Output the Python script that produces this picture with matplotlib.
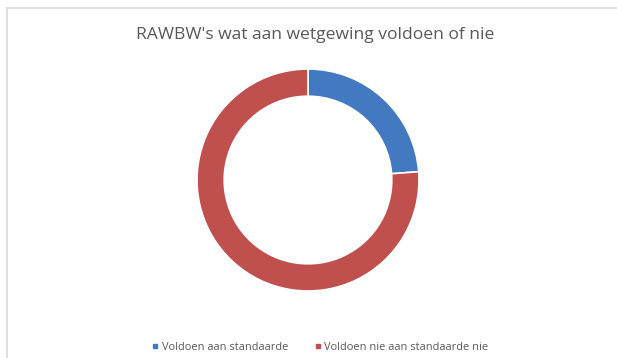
import matplotlib
matplotlib.use("Agg")
import matplotlib.pyplot as plt
from matplotlib.lines import Line2D

# ---------- data ----------
labels = ["Voldoen aan standaarde", "Voldoen nie aan standaarde nie"]
counts = [5, 16]
colors = ["#4279C0", "#C0504D"]
TXT = "#595959"

plt.rcParams["font.family"] = ["Open Sans", "DejaVu Sans"]

fig = plt.figure(figsize=(6.17, 3.58), dpi=100)

# light chart-area border (top + left only, as in the screenshot)
fig.add_artist(Line2D([7/617, 1.0], [1 - 8/358, 1 - 8/358], color="#D9D9D9", lw=1.2))
fig.add_artist(Line2D([7/617, 7/617], [0, 1 - 8/358], color="#D9D9D9", lw=1.2))

# donut: centre (308, 180), radius ~111 px
r = 111
cx, cy = 308, 180
ax = fig.add_axes([(cx - r) / 617, 1 - (cy + r) / 358, 2 * r / 617, 2 * r / 358])
ax.pie(counts, colors=colors, startangle=90, counterclock=False,
       wedgeprops=dict(width=0.245, edgecolor="white", linewidth=1.2))
ax.set_aspect("equal")
ax.set_xlim(-1, 1); ax.set_ylim(-1, 1)

fig.text(315/617, 1 - 35/358, "RAWBW's wat aan wetgewing voldoen of nie",
         ha="center", va="center", fontsize=12.6, color=TXT)

handles = [Line2D([], [], marker="s", color=c, linestyle="", markersize=3.5) for c in colors]
fig.legend(handles, labels, loc="center", bbox_to_anchor=(320/617, 1 - 347/358),
           ncol=2, frameon=False, fontsize=7.9, labelcolor=TXT,
           handlelength=0.6, handletextpad=0.3, columnspacing=2.4)

plt.savefig("out.png", dpi=100, facecolor="white")
